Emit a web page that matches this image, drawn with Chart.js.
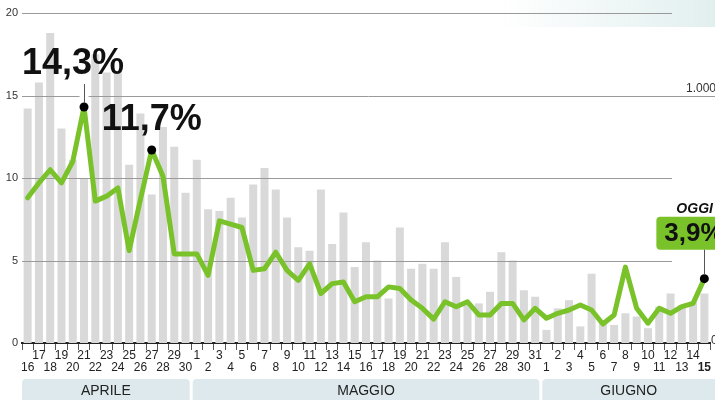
<!DOCTYPE html>
<html>
<head>
<meta charset="utf-8">
<script src="https://cdn.jsdelivr.net/npm/chart.js@4/dist/chart.umd.min.js"></script>
<style>
  html, body { margin: 0; padding: 0; background: #fff; }
  #wrap { width: 715px; height: 400px; position: relative; }
</style>
</head>
<body>
<div id="wrap"><canvas id="chart"></canvas></div>
<script>
// days from 16 April to 15 June
const dayLabels = [
  "16", "17", "18", "19", "20", "21", "22", "23", "24", "25", "26", "27", "28", "29", "30",
  "1", "2", "3", "4", "5", "6", "7", "8", "9", "10", "11", "12", "13", "14", "15", "16",
  "17", "18", "19", "20", "21", "22", "23", "24", "25", "26", "27", "28", "29", "30", "31",
  "1", "2", "3", "4", "5", "6", "7", "8", "9", "10", "11", "12", "13", "14", "15"
]

// percentage (green line, left axis)
const pctValues = [
  8.8, 9.7, 10.5, 9.7, 11.0, 14.3, 8.6, 8.9, 9.4, 5.6,
  8.7, 11.7, 10.1, 5.4, 5.4, 5.4, 4.1, 7.4, 7.2, 7.0,
  4.4, 4.5, 5.5, 4.4, 3.8, 4.8, 3.0, 3.6, 3.7, 2.5,
  2.8, 2.8, 3.4, 3.3, 2.6, 2.1, 1.45, 2.5, 2.2, 2.5,
  1.7, 1.7, 2.4, 2.4, 1.4, 2.1, 1.5, 1.8, 2.0, 2.3,
  2.0, 1.15, 1.7, 4.6, 2.1, 1.2, 2.1, 1.8, 2.2, 2.4, 3.9
]

// daily counts (grey bars, right axis)
const countValues = [
  947, 1053, 1253, 867, 740, 667, 1167, 1093, 1093, 720,
  927, 600, 873, 793, 607, 740, 540, 533, 587, 507,
  640, 707, 620, 507, 387, 373, 620, 400, 527, 307,
  407, 333, 180, 467, 300, 320, 300, 407, 267, 160,
  160, 207, 367, 333, 213, 187, 53, 140, 173, 67,
  280, 93, 73, 120, 107, 60, 147, 200, 153, 167, 200
]

const monthNames = ["APRILE", "MAGGIO", "GIUGNO"]
const monthFirst = [0, 15, 46]
const monthLast = [14, 45, 60]

const leftTicks = [5, 10, 15, 20]
const rightTicks = [0, 1000]
const markedPoints = [5, 11, 60]

const green = "#79c22a"
const font = "'Liberation Sans', Arial, sans-serif"

const overlay = {
  id: "overlay",
  beforeDraw(chart) {
    const ctx = chart.ctx
    // faint band top right
    const g = ctx.createLinearGradient(500, 0, chart.width, 0)
    g.addColorStop(0, "rgba(214,232,232,0)")
    g.addColorStop(1, "rgba(214,232,232,0.7)")
    ctx.save()
    ctx.fillStyle = g
    ctx.fillRect(500, 0, chart.width - 500, 27)
    ctx.restore()
  },
  afterDatasetDraw(chart, args) {
    if (args.index !== 1) return
    // grid lines above the bars, below the line
    const ctx = chart.ctx
    const y = chart.scales.y
    const area = chart.chartArea
    ctx.save()
    ctx.strokeStyle = "#9a9a9a"
    ctx.lineWidth = 1
    leftTicks.forEach((v) => {
      const py = Math.round(y.getPixelForValue(v)) + 0.5
      ctx.beginPath()
      ctx.moveTo(area.left, py)
      ctx.lineTo(v === 15 ? chart.width : chart.width - 43, py)
      ctx.stroke()
    })
    // white gap behind the first callout stem
    const p = chart.getDatasetMeta(0).data[markedPoints[0]]
    ctx.fillStyle = "#fff"
    ctx.fillRect(p.x - 4.5, p.y - 24, 9, 18)
    ctx.restore()
  },
  afterDraw(chart) {
    const ctx = chart.ctx
    const x = chart.scales.x
    const y2 = chart.scales.y2
    const meta = chart.getDatasetMeta(0)
    const half = (x.getPixelForValue(1) - x.getPixelForValue(0)) / 2
    ctx.save()

    // right axis labels
    ctx.fillStyle = "#333"
    ctx.font = "12px " + font
    ctx.textAlign = "right"
    ctx.textBaseline = "alphabetic"
    ctx.fillText("1.000", chart.width + 1, y2.getPixelForValue(rightTicks[1]) - 4)
    ctx.textAlign = "left"
    ctx.textBaseline = "middle"
    ctx.fillText("0", chart.width - 4, y2.getPixelForValue(rightTicks[0]) - 2)

    // month bands
    monthNames.forEach((name, i) => {
      const left = i === 0 ? chart.chartArea.left : x.getPixelForValue(monthFirst[i]) - half + 1.5
      const right = i === monthNames.length - 1 ? chart.width + 5 : x.getPixelForValue(monthLast[i]) + half - 1.5
      ctx.fillStyle = "#dde9ec"
      ctx.beginPath()
      ctx.roundRect(left, 379, right - left, 30, 4)
      ctx.fill()
      ctx.fillStyle = "#222"
      ctx.font = "14px " + font
      ctx.textAlign = "center"
      ctx.textBaseline = "middle"
      ctx.fillText(name, (left + Math.min(right, chart.width)) / 2, 391)
    })

    // callouts
    const p1 = meta.data[markedPoints[0]]
    const p2 = meta.data[markedPoints[1]]
    const p3 = meta.data[markedPoints[2]]
    ctx.fillStyle = "#111"
    ctx.textAlign = "left"
    ctx.textBaseline = "alphabetic"
    ctx.font = "bold 36px " + font
    ctx.fillText("14,3%", p1.x - 62, p1.y - 33)
    ctx.fillText("11,7%", p2.x - 50, p2.y - 20)

    ctx.strokeStyle = "#555"
    ctx.lineWidth = 1
    ctx.beginPath()
    ctx.moveTo(Math.round(p1.x) + 0.5, p1.y - 23)
    ctx.lineTo(Math.round(p1.x) + 0.5, p1.y - 4)
    ctx.stroke()

    // today box
    ctx.fillStyle = green
    ctx.beginPath()
    ctx.roundRect(p3.x - 48, p3.y - 62, 80, 33, 4)
    ctx.fill()
    ctx.beginPath()
    ctx.moveTo(Math.round(p3.x) + 0.5, p3.y - 29)
    ctx.lineTo(Math.round(p3.x) + 0.5, p3.y - 4)
    ctx.stroke()
    ctx.fillStyle = "#111"
    ctx.font = "bold 26px " + font
    ctx.fillText("3,9%", p3.x - 40, p3.y - 38)
    ctx.font = "italic bold 14px " + font
    ctx.fillText("OGGI", p3.x - 28, p3.y - 66)

    ctx.restore()
  }
}

new Chart(document.getElementById("chart"), {
  data: {
    labels: dayLabels,
    datasets: [
      {
        type: "line",
        data: pctValues,
        yAxisID: "y",
        order: 0,
        borderColor: green,
        borderWidth: 5,
        borderJoinStyle: "round",
        borderCapStyle: "round",
        tension: 0,
        pointRadius: (c) => (markedPoints.includes(c.dataIndex) ? 4.5 : 0),
        pointBackgroundColor: "#000",
        pointBorderWidth: 0
      },
      {
        type: "bar",
        data: countValues,
        yAxisID: "y2",
        order: 1,
        backgroundColor: "#d9d9d9",
        barPercentage: 0.71,
        categoryPercentage: 1
      }
    ]
  },
  options: {
    responsive: true,
    maintainAspectRatio: false,
    animation: false,
    layout: { padding: { top: 13, bottom: 26, left: 0, right: 5 } },
    plugins: { legend: { display: false }, tooltip: { enabled: false } },
    scales: {
      x: {
        z: 1,
        offset: true,
        border: { display: true, color: "#222", width: 2 },
        grid: { drawOnChartArea: false, drawTicks: true, tickLength: 7, color: "#555" },
        ticks: {
          autoSkip: false,
          maxRotation: 0,
          minRotation: 0,
          padding: 0,
          color: "#222",
          font: (c) => ({ family: font, size: 12, lineHeight: 1, weight: c.index === 60 ? "bold" : "normal" }),
          callback: (v, i) => (i % 2 === 1 ? [dayLabels[i]] : ["", dayLabels[i]])
        }
      },
      y: {
        min: 0,
        max: 20,
        border: { display: false },
        grid: { display: false, drawTicks: false, tickLength: 0 },
        afterFit: (s) => { s.width = 22 },
        ticks: {
          stepSize: 5,
          padding: 4,
          color: "#333",
          font: { family: font, size: 11 }
        }
      },
      y2: {
        display: false,
        min: 0,
        max: 4000 / 3
      }
    }
  },
  plugins: [overlay]
})
</script>
</body>
</html>
